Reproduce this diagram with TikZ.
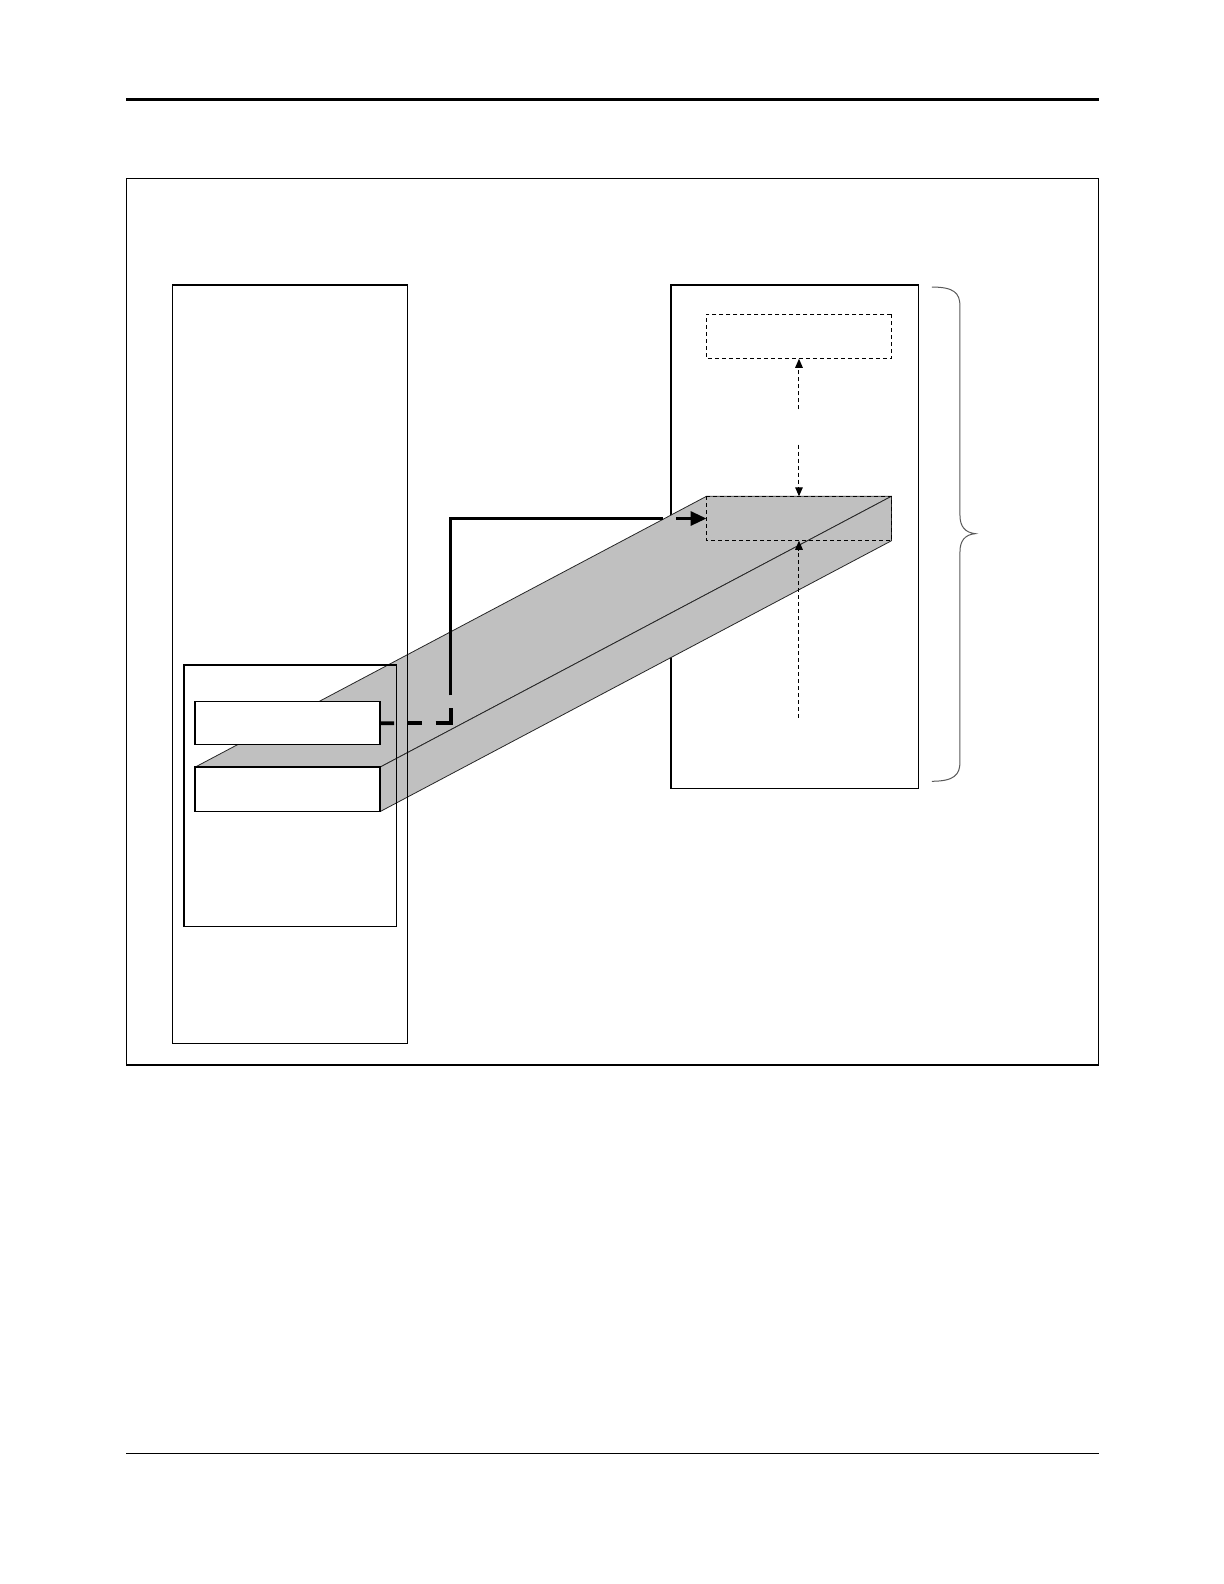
\documentclass[tikz,border=0pt]{standalone}
\usetikzlibrary{arrows.meta}
\definecolor{beamgray}{HTML}{C0C0C0}
\begin{document}
\begin{tikzpicture}[x=0.5pt,y=-0.5pt,scale=1.0105,transform shape,
  box/.style={draw=black,line width=0.6pt,inner sep=0pt,outer sep=0pt},
  whitebox/.style={box,fill=white},
  dashbox/.style={draw=black,line width=0.5pt,dash pattern=on 2pt off 1.5pt,inner sep=0pt,outer sep=0pt},
  face/.style={fill=beamgray,draw=black!85,line width=0.4pt,line join=round},
  thinarrow/.style={draw=black,line width=0.5pt,dash pattern=on 2pt off 1.5pt,-{Triangle[length=4.5pt,width=3.8pt]}},
  thickline/.style={draw=black,line width=1.6pt,line join=miter},
  thickdash/.style={draw=black,line width=1.9pt,line join=miter},
  bracestyle/.style={draw=black!65,line width=0.5pt}]
\useasboundingbox (0,0) rectangle (1211.28,1567.54);
% header / footer rules
\coordinate (tl) at (125,98); \coordinate (tr) at (1087,98);
\draw[line width=1.5pt] (tl) -- (tr);
\coordinate (bl) at (125,1438); \coordinate (br) at (1087,1438);
\draw[line width=0.8pt] (bl) -- (br);
% outer frame
\node[box,minimum width=481pt,minimum height=438.5pt] (frame) at (606,615.5) {};
% right box and top dashed box (under the beam)
\node[box,minimum width=122.5pt,minimum height=249pt] (rightbox) at (786.5,531) {};
\node[dashbox,minimum width=91.5pt,minimum height=22pt] (topdash) at (790.5,333) {};
% beam end face and front face (positions)
\node[inner sep=0pt,outer sep=0pt,minimum width=91.5pt,minimum height=22pt] (endface) at (790.5,513) {};
\node[inner sep=0pt,outer sep=0pt,minimum width=91.5pt,minimum height=22pt] (front) at (284.5,781) {};
% beam faces
\path[face] (front.north west) -- (front.north east) -- (endface.north east) -- (endface.north west) -- cycle;
\path[face] (front.north east) -- (front.south east) -- (endface.south east) -- (endface.north east) -- cycle;
% dashed outline of end face
\draw[dashbox] (endface.north west) rectangle (endface.south east);
% left boxes
\node[whitebox,minimum width=91.5pt,minimum height=22pt] (lowbox) at (284.5,781) {};
\node[whitebox,minimum width=91.5pt,minimum height=21pt] (upbox) at (284.5,715.5) {};
\node[box,minimum width=116pt,minimum height=375.5pt] (lefttall) at (287,657.5) {};
\node[box,minimum width=105pt,minimum height=129.5pt] (leftinner) at (287,787.5) {};
% thick connector: dashed start, then solid, then arrow
\coordinate (c1) at (446,715.5);
\coordinate (d0) at (upbox.east |- c1);
\coordinate (d1) at (390,715.5); \coordinate (d2) at (403,715.5);
\coordinate (d3) at (418,715.5); \coordinate (d4) at (431,715.5);
\coordinate (c2) at (446,700);
\coordinate (c3) at (446,688);
\coordinate (c4) at (446,513);
\coordinate (c5) at (656,513);
\coordinate (c6) at (669,513);
\draw[thickdash] (d0) -- (d1);
\draw[thickdash] (d2) -- (d3);
\draw[thickdash] (d4) -- (c1) -- (c2);
\draw[thickline] (c3) -- (c4) -- (c5);
\draw[thickline,-{Triangle[length=8pt,width=7pt]}] (c6) -- (endface.west);
% thin dashed arrows
\coordinate (a1) at (790.5,405);
\coordinate (a2) at (790.5,440);
\coordinate (a3) at (790.5,710);
\draw[thinarrow] (a1) -- (topdash.south);
\draw[thinarrow] (a2) -- (endface.north);
\draw[thinarrow] (a3) -- (endface.south);
% brace
\coordinate (br1) at (922,284);
\coordinate (brtip) at (965,528);
\coordinate (br2) at (922,773);
\draw[bracestyle] (br1) .. controls (944,284) and (950,290) .. (950,303) -- (950,510)
  .. controls (950,521) and (955,527) .. (brtip)
  .. controls (955,529) and (950,535) .. (950,546) -- (950,754)
  .. controls (950,767) and (944,773) .. (br2);
\end{tikzpicture}
\end{document}
